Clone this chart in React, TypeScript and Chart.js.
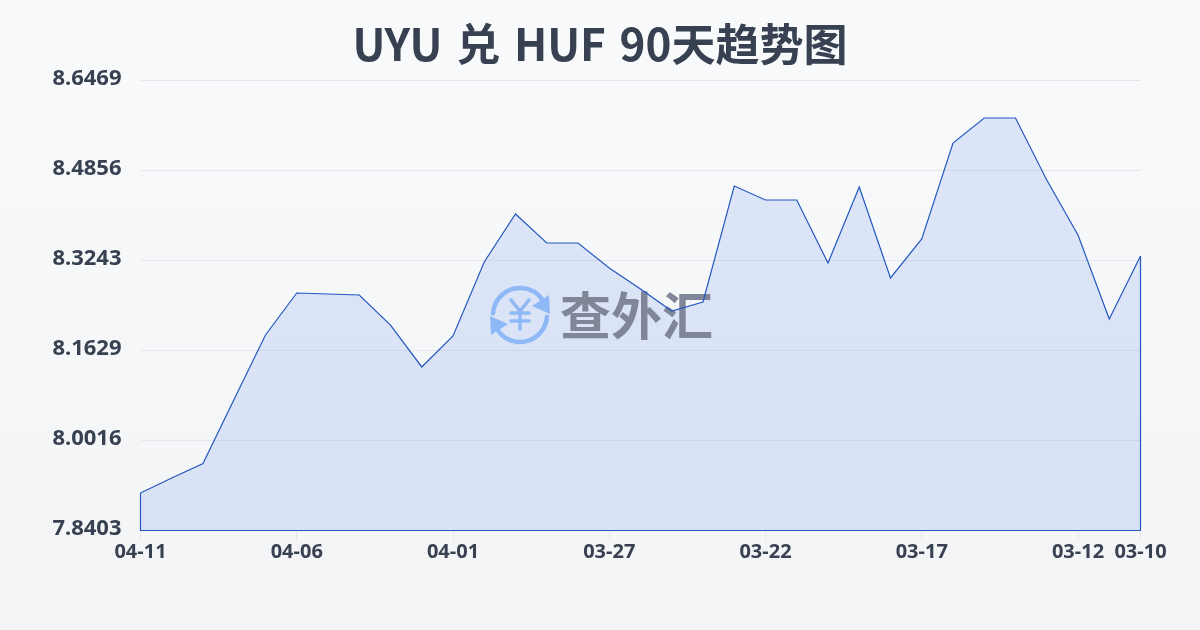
import React, { useEffect, useRef } from "react";
import { Chart, registerables } from "chart.js";

Chart.register(...registerables);

const titleText = "UYU 兑 HUF 90天趋势图";
const watermarkText = "查外汇";
const dates = ["04-11","04-10","04-09","04-08","04-07","04-06","04-05","04-04","04-03","04-02","04-01","03-31","03-30","03-29","03-28","03-27","03-26","03-25","03-24","03-23","03-22","03-21","03-20","03-19","03-18","03-17","03-16","03-15","03-14","03-13","03-12","03-11","03-10"];
const shownDates = ["04-11","04-06","04-01","03-27","03-22","03-17","03-12","03-10"];
const rates = [7.9075,7.9344,7.9604,8.076,8.1907,8.266,8.2642,8.2624,8.2086,8.1334,8.1889,8.3216,8.4076,8.3556,8.3556,8.3108,8.2732,8.2337,8.2499,8.4578,8.4327,8.4327,8.3198,8.456,8.2929,8.3628,8.5349,8.5797,8.5797,8.4685,8.37,8.2194,8.3323];
const yTicks = [7.8403,8.0016,8.1629,8.3243,8.4856,8.6469];

const INK = "#374151";
const LINE = "#2458bf";
const LINE_WIDTH = 1.2;
const FILL = "rgba(37,99,235,0.13)";
const GRID = "#e5e7eb";
const FONT = '"Noto Sans", "Noto Sans CJK SC", sans-serif';
const TITLE_FONT = '"Noto Sans CJK SC", sans-serif';

const textTweaks = {
  id: "textTweaks",
  beforeDraw(chart: any) {
    chart.ctx.wordSpacing = "3.7px";
    chart.scales.y.getLabelItems().forEach((item: any) => {
      item.textOffset -= 1.5;
    });
  },
};

const closePath = {
  id: "closePath",
  afterDatasetsDraw(chart: any) {
    const pts = chart.getDatasetMeta(0).data;
    const bottom = chart.scales.y.bottom;
    const a = pts[0];
    const b = pts[pts.length - 1];
    const c = chart.ctx;
    c.save();
    c.strokeStyle = LINE;
    c.lineWidth = LINE_WIDTH;
    c.beginPath();
    c.moveTo(a.x, a.y);
    c.lineTo(a.x, bottom);
    c.lineTo(b.x, bottom);
    c.lineTo(b.x, b.y);
    c.stroke();
    c.restore();
  },
};

const watermark = {
  id: "watermark",
  beforeDatasetDraw(chart: any) {
    const c = chart.ctx;
    const area = chart.chartArea;
    const cx = (area.left + area.right) / 2 - 120.5;
    const cy = (area.top + area.bottom) / 2 + 9.5;
    c.save();
    c.strokeStyle = "#8fb8f6";
    c.fillStyle = "#8fb8f6";
    c.lineWidth = 4.5;
    c.lineCap = "round";
    c.beginPath();
    c.arc(cx, cy, 27, Math.PI * 1.02, Math.PI * 1.82);
    c.stroke();
    c.beginPath();
    c.arc(cx, cy, 27, Math.PI * 0.02, Math.PI * 0.82);
    c.stroke();
    c.beginPath();
    c.moveTo(cx + 29, cy - 20);
    c.lineTo(cx + 30, cy - 1);
    c.lineTo(cx + 12, cy - 9);
    c.closePath();
    c.fill();
    c.beginPath();
    c.moveTo(cx - 29, cy + 20);
    c.lineTo(cx - 30, cy + 1);
    c.lineTo(cx - 12, cy + 9);
    c.closePath();
    c.fill();
    c.lineWidth = 3.5;
    c.beginPath();
    c.moveTo(cx - 9, cy - 15);
    c.lineTo(cx, cy - 4);
    c.lineTo(cx + 9, cy - 15);
    c.moveTo(cx, cy - 4);
    c.lineTo(cx, cy + 14);
    c.moveTo(cx - 9, cy - 2);
    c.lineTo(cx + 9, cy - 2);
    c.moveTo(cx - 9, cy + 6);
    c.lineTo(cx + 9, cy + 6);
    c.stroke();
    c.fillStyle = "#7f8698";
    c.font = '700 51px "Noto Sans CJK SC", sans-serif';
    c.textAlign = "left";
    c.textBaseline = "middle";
    c.fillText(watermarkText, cx + 40, cy + 1);
    c.restore();
  },
};

export default function App() {
  const ref = useRef<HTMLCanvasElement | null>(null);

  useEffect(() => {
    document.body.style.margin = "0";
    const chart = new Chart(ref.current as HTMLCanvasElement, {
      type: "line",
      data: {
        labels: dates,
        datasets: [
          {
            data: rates,
            borderColor: LINE,
            borderWidth: LINE_WIDTH,
            backgroundColor: FILL,
            fill: "start",
            tension: 0,
            pointRadius: 0,
          },
        ],
      },
      options: {
        animation: false,
        responsive: false,
        layout: { padding: { left: 0, right: 0, top: 0, bottom: 65.5 } },
        plugins: {
          legend: { display: false },
          tooltip: { enabled: false },
          title: {
            display: true,
            text: titleText,
            color: INK,
            font: { family: TITLE_FONT, size: 44, weight: "bold" },
            padding: { top: 18.1, bottom: 9.6 },
          },
        },
        scales: {
          x: {
            border: { display: false },
            grid: { drawOnChartArea: false, drawTicks: true, tickLength: 10, color: GRID },
            afterBuildTicks(scale: any) {
              scale.ticks = scale.ticks.filter((t: any) => shownDates.includes(dates[t.value]));
            },
            ticks: {
              autoSkip: false,
              maxRotation: 0,
              minRotation: 0,
              padding: 0,
              color: INK,
              font: { family: FONT, size: 20, weight: "bold" },
              callback: (_v: any, i: number) => shownDates[i],
            },
          },
          y: {
            min: yTicks[0],
            max: yTicks[yTicks.length - 1],
            border: { display: false },
            grid: { drawTicks: false, color: GRID },
            afterBuildTicks(scale: any) {
              scale.ticks = yTicks.map((value) => ({ value }));
            },
            afterFit(scale: any) {
              scale.width = 140.5;
            },
            ticks: {
              padding: 19,
              color: INK,
              font: { family: FONT, size: 22, weight: "bold" },
              callback: (v: any) => Number(v).toFixed(4),
            },
          },
          gutter: {
            position: "right",
            display: true,
            border: { display: false },
            grid: { display: false },
            ticks: { display: false },
            afterFit(scale: any) {
              scale.width = 59.5;
            },
          },
        },
      },
      plugins: [textTweaks, watermark, closePath],
    } as any);
    return () => chart.destroy();
  }, []);

  return (
    <div
      style={{
        width: 1200,
        height: 630,
        background: "linear-gradient(180deg, #f8fafc 0%, #f3f4f6 100%)",
      }}
    >
      <canvas ref={ref} width={1200} height={630} style={{ display: "block" }} />
    </div>
  );
}
